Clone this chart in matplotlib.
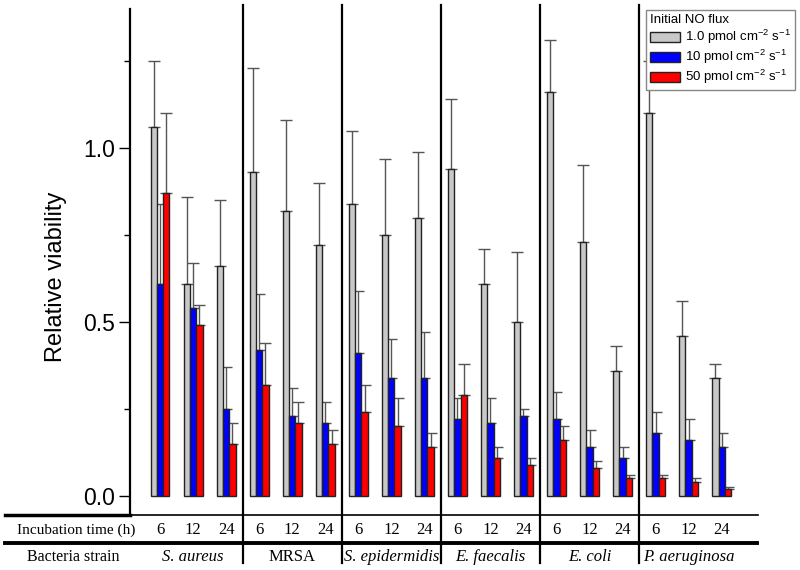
import matplotlib
matplotlib.use('Agg')
import matplotlib.pyplot as plt
import numpy as np
from matplotlib.lines import Line2D

# data
strains = ['S. aureus', 'MRSA', 'S. epidermidis', 'E. faecalis', 'E. coli', 'P. aeruginosa']
italic = [True, False, True, True, True, True]
hours = ['6', '12', '24']
labels = ['1.0 pmol cm$^{-2}$ s$^{-1}$', '10 pmol cm$^{-2}$ s$^{-1}$', '50 pmol cm$^{-2}$ s$^{-1}$']

low = [1.06, 0.61, 0.66, 0.93, 0.82, 0.72, 0.84, 0.75, 0.80, 0.94, 0.61, 0.50, 1.16, 0.73, 0.36, 1.10, 0.46, 0.34]
low_err = [0.19, 0.25, 0.19, 0.30, 0.26, 0.18, 0.21, 0.22, 0.19, 0.20, 0.10, 0.20, 0.15, 0.22, 0.07, 0.15, 0.10, 0.04]
mid = [0.61, 0.54, 0.25, 0.42, 0.23, 0.21, 0.41, 0.34, 0.34, 0.22, 0.21, 0.23, 0.22, 0.14, 0.11, 0.18, 0.16, 0.14]
mid_err = [0.23, 0.13, 0.12, 0.16, 0.08, 0.06, 0.18, 0.11, 0.13, 0.06, 0.07, 0.02, 0.08, 0.05, 0.03, 0.06, 0.06, 0.04]
high = [0.87, 0.49, 0.15, 0.32, 0.21, 0.15, 0.24, 0.20, 0.14, 0.29, 0.11, 0.09, 0.16, 0.08, 0.05, 0.05, 0.04, 0.02]
high_err = [0.23, 0.06, 0.06, 0.12, 0.06, 0.04, 0.08, 0.08, 0.04, 0.09, 0.03, 0.02, 0.04, 0.02, 0.01, 0.01, 0.01, 0.005]

colors = ['#c8c8c8', '#0000ff', '#ff0000']

plt.rcParams['font.family'] = ['Liberation Sans', 'DejaVu Sans']
plt.rcParams['mathtext.fontset'] = 'custom'
plt.rcParams['mathtext.rm'] = 'Liberation Sans'

fig = plt.figure(figsize=(8, 5.7), dpi=100)
ax = fig.add_axes([130/800, 1-515/570, (758-130)/800, (515-9)/570])

x = np.arange(len(low))
w = 0.19
series = [(low, low_err), (mid, mid_err), (high, high_err)]
for i, (vals, errs) in enumerate(series):
    pos = x + (i-1)*w
    ax.bar(pos, vals, w, color=colors[i], edgecolor='#222222', linewidth=1, label=labels[i], zorder=2)
    ax.errorbar(pos, vals, yerr=[np.zeros(len(vals)), errs], fmt='none', ecolor='#555555',
                elinewidth=1, capsize=4.5, capthick=1, zorder=1)

ax.set_xlim(-0.91, 18.1)
ax.set_ylim(-0.055, 1.40)
ax.set_yticks([0.0, 0.5, 1.0])
ax.set_yticklabels(['0.0', '0.5', '1.0'])
ax.set_yticks([0.25, 0.75, 1.25], minor=True)
ax.tick_params(axis='y', which='major', direction='out', length=8, width=1, labelsize=16.5, pad=3)
ax.tick_params(axis='y', which='minor', direction='out', length=4, width=1)
ax.set_xticks([])
ax.spines['top'].set_visible(False)
ax.spines['right'].set_visible(False)
ax.spines['left'].set_linewidth(1.6)
ax.spines['bottom'].set_linewidth(1.2)
ax.set_ylabel('Relative viability', fontsize=17)
ax.yaxis.set_label_coords(-0.10, 0.47)

# group separators
trans = ax.get_xaxis_transform()
for k in range(1, len(strains)):
    xs = 3*k - 0.5
    ax.plot([xs, xs], [-0.095, 1.008], color='black', lw=1.6, transform=trans, clip_on=False)

# table below the axis
serif = ['Liberation Serif', 'DejaVu Serif']
ax.text(-0.086, -0.03, 'Incubation time (h)', transform=ax.transAxes, ha='center', va='center',
        fontsize=11, family=serif)
for i in range(len(low)):
    ax.text(x[i], -0.03, hours[i % 3], transform=trans, ha='center', va='center', fontsize=12, family=serif)
ax.text(-0.091, -0.083, 'Bacteria strain', transform=ax.transAxes, ha='center', va='center',
        fontsize=11.5, family=serif)
for k, s in enumerate(strains):
    ax.text(3*k + 1, -0.083, s, transform=trans, ha='center', va='center', fontsize=12,
            family=serif, style='italic' if italic[k] else 'normal')

fig.add_artist(Line2D([5/800, 130/800], [1-514.5/570, 1-514.5/570], color='black', lw=2.5))
fig.add_artist(Line2D([5/800, 757/800], [1-543/570, 1-543/570], color='black', lw=2.8))

leg = ax.legend(loc='upper right', bbox_to_anchor=(795/800, 1-10/570), bbox_transform=fig.transFigure,
                title='Initial NO flux', fontsize=9.5, title_fontsize=9.5, fancybox=False,
                edgecolor='#888888', framealpha=1, handlelength=2.3, handleheight=0.8,
                borderpad=0.3, labelspacing=0.15, handletextpad=0.4, borderaxespad=0)
leg._legend_box.align = 'left'
leg.get_frame().set_linewidth(1)

fig.savefig('out.png', dpi=100)
